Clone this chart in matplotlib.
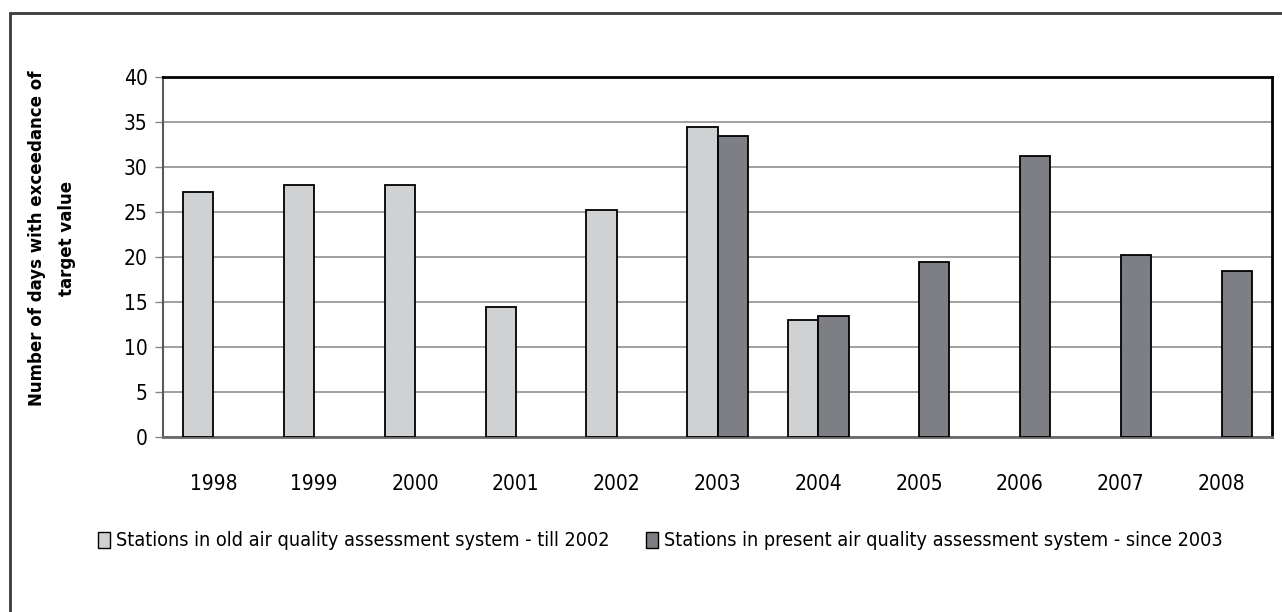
import numpy as np
import matplotlib
matplotlib.use("Agg")
import matplotlib.pyplot as plt
from matplotlib import font_manager
from matplotlib.patches import Rectangle, Patch

years = ["1998", "1999", "2000", "2001", "2002", "2003",
         "2004", "2005", "2006", "2007", "2008"]
old_system = [27.2, 28.0, 28.0, 14.5, 25.2, 34.5, 13.0, np.nan, np.nan, np.nan, np.nan]
new_system = [np.nan, np.nan, np.nan, np.nan, np.nan, 33.5, 13.5, 19.5, 31.2, 20.2, 18.5]
labels = ["Stations in old air quality assessment system - till 2002",
          "Stations in present air quality assessment system - since 2003"]
ylabel = "Number of days with exceedance of\ntarget value"

light = "#d0d1d3"
dark = "#7e7f84"

# pick a narrow face for the tick and legend text
names = {f.name for f in font_manager.fontManager.ttflist}
if "Liberation Sans Narrow" in names:
    narrow = dict(family="Liberation Sans Narrow", stretch="normal")
    tick_size, leg_size = 17, 16
else:
    narrow = dict(family="DejaVu Sans", stretch="condensed")
    tick_size, leg_size = 15, 14.2

fig = plt.figure(figsize=(12.82, 6.12), dpi=100)
ax = fig.add_axes([163 / 1282, 1 - 437 / 612, 1109 / 1282, 360 / 612])

x = np.arange(len(years))
w = 0.3
ax.bar(x - w / 2, old_system, w, color=light, edgecolor="black", linewidth=1.3, zorder=3)
ax.bar(x + w / 2, new_system, w, color=dark, edgecolor="black", linewidth=1.3, zorder=3)

ax.set_xlim(-0.5, len(years) - 0.5)
ax.set_ylim(0, 40)
ax.set_yticks(range(0, 41, 5))
ax.set_xticks(x)
ax.set_xticklabels(years)
ax.yaxis.grid(True, color="#868686", linewidth=1.1, zorder=0)

for lbl in ax.get_xticklabels() + ax.get_yticklabels():
    lbl.set_family(narrow["family"])
    lbl.set_stretch(narrow["stretch"])
    lbl.set_fontsize(tick_size)
ax.tick_params(axis="x", length=0, pad=27)
ax.tick_params(axis="y", length=6, width=1, color="#868686", pad=5)

ax.spines["top"].set_color("black")
ax.spines["top"].set_linewidth(2)
ax.spines["right"].set_color("black")
ax.spines["right"].set_linewidth(2)
ax.spines["left"].set_color("#5a5a5a")
ax.spines["left"].set_linewidth(1.5)
ax.spines["bottom"].set_color("#6a6a6a")
ax.spines["bottom"].set_linewidth(2)

fig.text(52 / 1282, 1 - 238 / 612, ylabel, rotation=90, ha="center", va="center",
         fontsize=12, fontweight="bold", family="DejaVu Sans", linespacing=1.8,
         multialignment="center")

handles = [Patch(facecolor=light, edgecolor="black", linewidth=1),
           Patch(facecolor=dark, edgecolor="black", linewidth=1)]
fig.legend(handles, labels, loc="center left", bbox_to_anchor=(80 / 1282, 1 - 541 / 612),
           ncol=2, frameon=False,
           prop=font_manager.FontProperties(family=narrow["family"],
                                            stretch=narrow["stretch"], size=leg_size),
           handlelength=0.6, handleheight=0.9, handletextpad=0.3, columnspacing=1.9)

# outer chart border
fig.add_artist(Rectangle((10 / 1282, -0.1), 1.0, (612 - 13) / 612 + 0.1,
                         transform=fig.transFigure, fill=False,
                         edgecolor="#3a3a3a", linewidth=2))

fig.savefig("out.png", dpi=100)
